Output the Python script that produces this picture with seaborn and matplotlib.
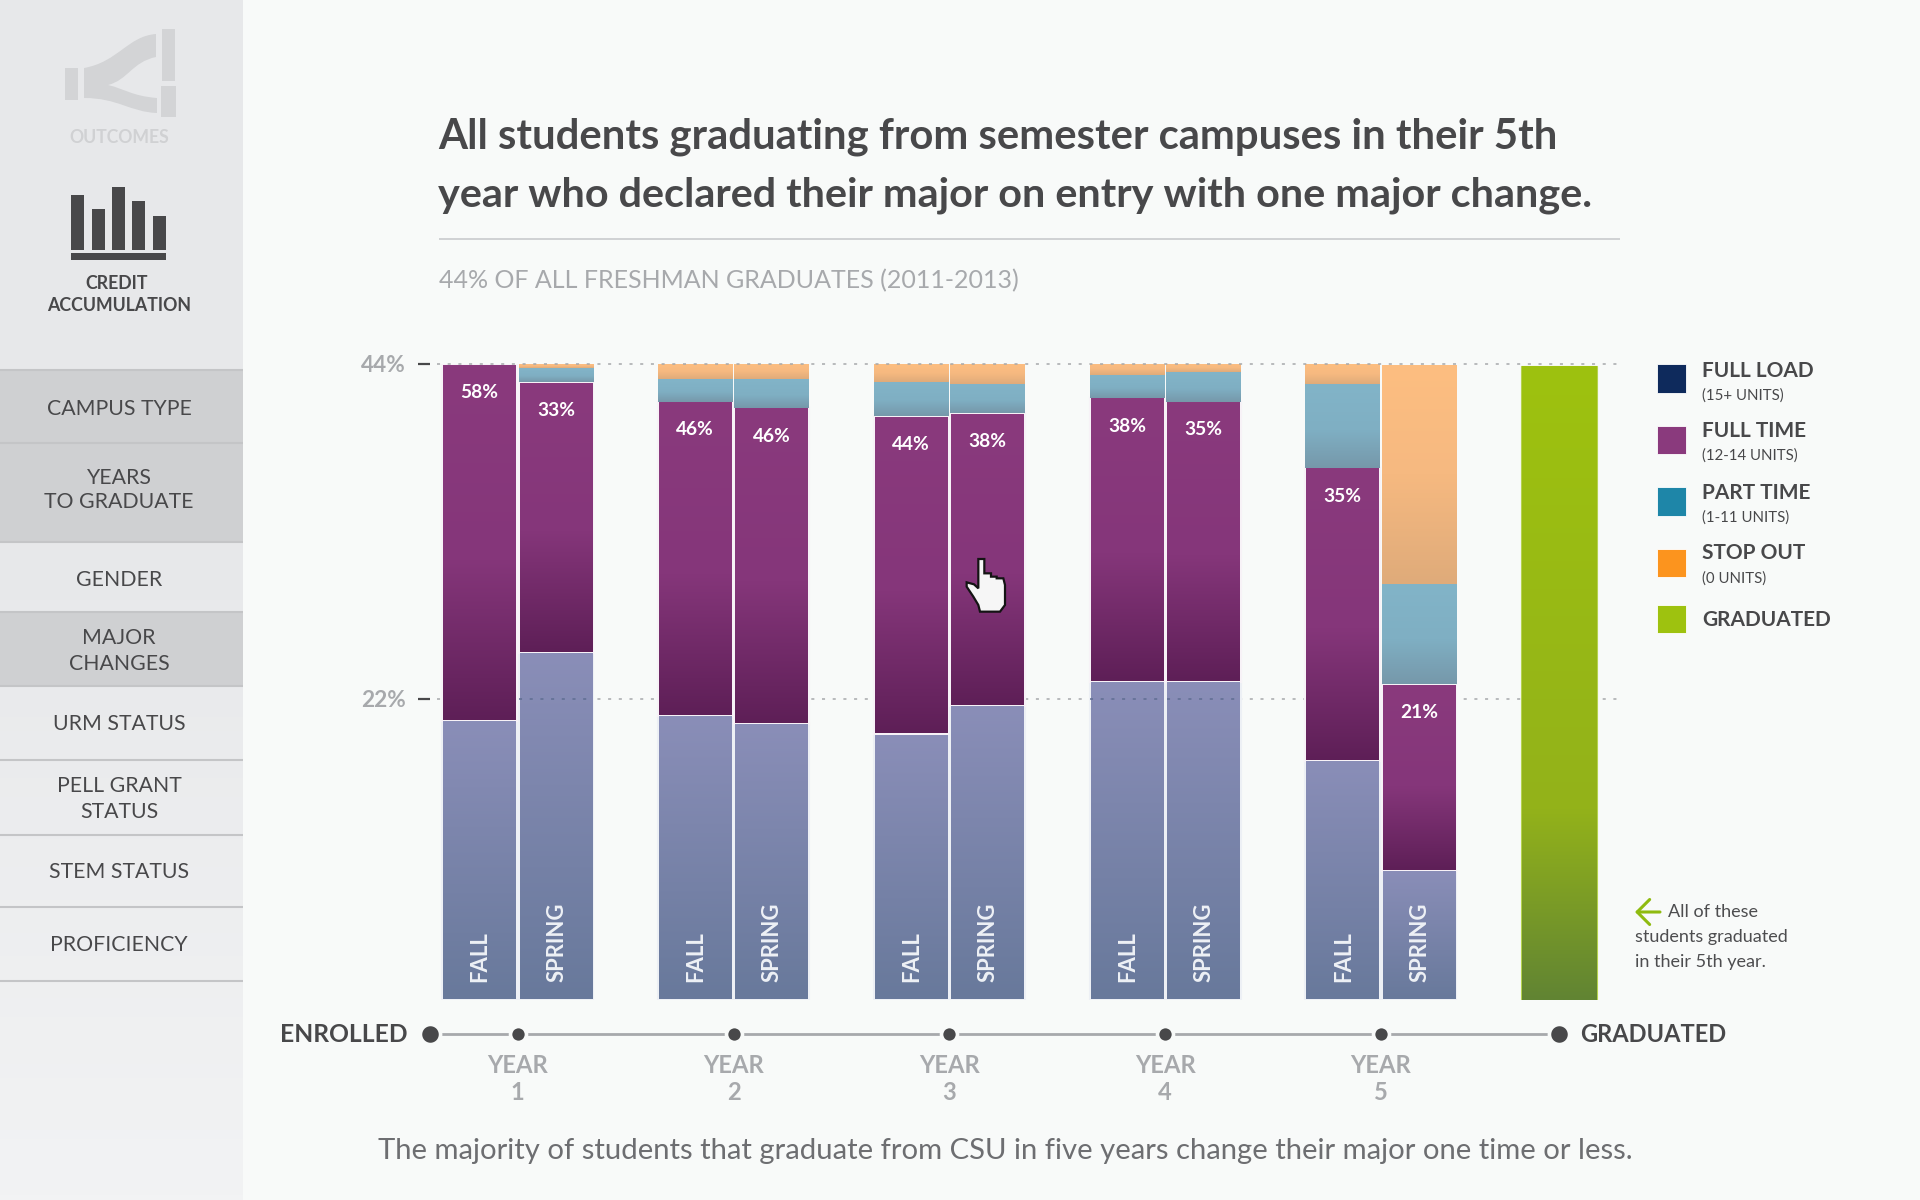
import numpy as np
import pandas as pd
import matplotlib
matplotlib.use("Agg")
import matplotlib.pyplot as plt
import seaborn as sns
from matplotlib.colors import LinearSegmentedColormap
from matplotlib.patches import Rectangle, Polygon, PathPatch, FancyArrowPatch
from matplotlib.path import Path
from matplotlib.transforms import blended_transform_factory

# ---- data (share of each semester's stack) ----
YEARS = [1, 2, 3, 4, 5]
YEAR_LABELS = ["YEAR\n1", "YEAR\n2", "YEAR\n3", "YEAR\n4", "YEAR\n5"]
SEMESTERS = ["FALL", "SPRING"] * 5
OTHER = [43.9, 54.6, 44.7, 43.4, 41.8, 46.3, 50.0, 50.0, 37.6, 20.3]
FULL_TIME = [56.1, 42.5, 49.4, 49.7, 50.0, 46.0, 44.7, 44.1, 46.1, 29.4]
PART_TIME = [0.0, 2.2, 3.6, 4.5, 5.4, 4.5, 3.5, 4.7, 13.2, 15.7]
STOP_OUT = [0.0, 0.6, 2.4, 2.4, 2.8, 3.2, 1.9, 1.3, 3.1, 34.4]
FULL_TIME_LABELS = ["58%", "33%", "46%", "46%", "44%", "38%", "38%", "35%", "35%", "21%"]
GRADUATED_VALUE = [99.9]
Y_TICKS = [47.4, 100]
Y_TICK_LABELS = ["22%", "44%"]
LEGEND_MAIN = ["FULL LOAD", "FULL TIME", "PART TIME", "STOP OUT", "GRADUATED"]
LEGEND_SUB = ["(15+ UNITS)", "(12-14 UNITS)", "(1-11 UNITS)", "(0 UNITS)", ""]
LEGEND_COLORS = ["#0E2A5C", "#8A3A7D", "#1E86A8", "#FC941E", "#9EC20F"]
NAV_ITEMS = ["CAMPUS TYPE", "YEARS\nTO GRADUATE", "GENDER", "MAJOR\nCHANGES", "URM STATUS",
             "PELL GRANT\nSTATUS", "STEM STATUS", "PROFICIENCY"]
TITLE = ["All students graduating from semester campuses in their 5th",
         "year who declared their major on entry with one major change."]
SUBTITLE = "44% OF ALL FRESHMAN GRADUATES (2011-2013)"
FOOTER = "The majority of students that graduate from CSU in five years change their major one time or less."
NOTE = ["All of these", "students graduated", "in their 5th year."]

# ---- styling ----
BG = "#F8FAF9"
DARK = "#48484A"
GREY = "#A7A9AC"
FONT = "Lato"
sns.set_theme(style="white")
plt.rcParams["font.family"] = [FONT, "DejaVu Sans"]

fig = plt.figure(figsize=(19.2, 12), dpi=100, facecolor=BG)
renderer = fig.canvas.get_renderer()

bg = fig.add_axes([0, 0, 1, 1], zorder=0)
bg.set_xlim(0, 1920); bg.set_ylim(1200, 0); bg.axis("off")
top = fig.add_axes([0, 0, 1, 1], zorder=5)
top.set_xlim(0, 1920); top.set_ylim(1200, 0); top.axis("off"); top.patch.set_alpha(0)


def fit(s, width, **kw):
    t = bg.text(0, 0, s, fontsize=20, **kw)
    w = t.get_window_extent(renderer).width
    t.remove()
    return 20 * width / w


def T(x, y, s, size, color=DARK, ha="left", va="baseline", weight="normal", **kw):
    return bg.text(x, y, s, fontsize=size, color=color, ha=ha, va=va, fontweight=weight, **kw)


# ---- sidebar ----
side = LinearSegmentedColormap.from_list("side", ["#E7E8EA", "#E8E9EB", "#F2F3F4"])
bg.imshow(np.linspace(0, 1, 256)[:, None], cmap=side, extent=(0, 243, 1200, 0), aspect="auto", zorder=1)
bg.set_xlim(0, 1920); bg.set_ylim(1200, 0)
NAV_EDGES = [370, 443, 542, 612, 686, 760, 835, 907, 981]
NAV_ACTIVE = [True, True, False, True, False, False, False, False]
for i, on in enumerate(NAV_ACTIVE):
    if on:
        bg.add_patch(Rectangle((0, NAV_EDGES[i]), 243, NAV_EDGES[i + 1] - NAV_EDGES[i],
                               fc="#CFD0D2", ec="none", zorder=2))
for y in NAV_EDGES:
    bg.plot([0, 243], [y, y], color="#C4C5C7", lw=1.5, zorder=3, solid_capstyle="butt")

nav_size = fit("CAMPUS TYPE", 144, fontweight="normal")
NAV_BASE = [[415], [484, 508.5], [586], [644.5, 669.5], [729.5], [792.5, 817.5], [878], [951]]
for item, bases in zip(NAV_ITEMS, NAV_BASE):
    for line, b in zip(item.split("\n"), bases):
        T(119, b, line, nav_size, ha="center", zorder=4)

# outcomes icon
ICON = "#D3D4D6"
for x0, y0, x1, y1 in [(65, 68, 78, 100), (162, 29, 175, 81), (161, 86, 176, 117)]:
    bg.add_patch(Rectangle((x0, y0), x1 - x0, y1 - y0, fc=ICON, ec="none", zorder=3))
verts = [(84, 68), (118, 62), (128, 36), (156, 34), (156, 57), (132, 62), (128, 80), (108, 85),
         (125, 89), (132, 96), (157, 98), (157, 113), (130, 112), (118, 98), (84, 98), (84, 68)]
codes = [Path.MOVETO, Path.CURVE4, Path.CURVE4, Path.CURVE4, Path.LINETO, Path.CURVE4, Path.CURVE4, Path.CURVE4,
         Path.CURVE4, Path.CURVE4, Path.CURVE4, Path.LINETO, Path.CURVE4, Path.CURVE4, Path.CURVE4, Path.CLOSEPOLY]
bg.add_patch(PathPatch(Path(verts, codes), fc=ICON, ec="none", zorder=3))
T(119, 143, "OUTCOMES", fit("OUTCOMES", 100, fontweight="bold"), color="#D0D1D3", ha="center", weight="bold", zorder=4)

# credit accumulation icon
for x0, top_y in zip([71, 91.5, 112, 132, 153], [195, 209, 187, 201, 216]):
    bg.add_patch(Rectangle((x0, top_y), 13, 249.5 - top_y, fc=DARK, ec="none", zorder=3))
bg.add_patch(Rectangle((70.5, 253), 95.5, 6.5, fc=DARK, ec="none", zorder=3))
ca = fit("ACCUMULATION", 144, fontweight="bold")
T(117, 289, "CREDIT", ca, ha="center", weight="bold", zorder=4)
T(119, 311, "ACCUMULATION", ca, ha="center", weight="bold", zorder=4)

# ---- title block ----
T(438, 149, TITLE[0], fit(TITLE[0], 1121, fontweight="bold"), weight="bold")
T(438, 206, TITLE[1], fit(TITLE[1], 1154, fontweight="bold"), weight="bold")
bg.plot([439, 1620], [239, 239], color="#CFD1D3", lw=1.4, solid_capstyle="butt")
T(439, 288, SUBTITLE, fit(SUBTITLE, 579), color=GREY)

# ---- chart ----
AX_L, AX_R, AX_T, AX_B = 430, 1620, 364, 1000
ax = fig.add_axes([AX_L / 1920, 1 - AX_B / 1200, (AX_R - AX_L) / 1920, (AX_B - AX_T) / 1200], zorder=2)
ax.patch.set_alpha(0)
OFFSET = 0.177
x_pos = np.array([[y - OFFSET, y + OFFSET] for y in YEARS]).ravel()
GRAD_X = [5.825]

stack_bottom = np.zeros(len(x_pos))
SERIES = [
    ("other", OTHER, "#7A84A8", [(0, "#8A8EB8"), (1, "#68799B")], "#EDF0F5"),
    ("full", FULL_TIME, "#7D3274", [(0, "#8A3A7D"), (0.55, "#85367A"), (1, "#5E1F57")], "#F7F2F7"),
    ("part", PART_TIME, "#7EAABE", [(0, "#82B4C8"), (0.55, "#7FAFC3"), (1, "#7698AA")], None),
    ("stop", STOP_OUT, "#F2B880", [(0, "#FDBE81"), (0.5, "#F6B980"), (1, "#DFAB7A")], None),
]
seg = {}
for name, vals, col, stops, edge in SERIES:
    n0 = len(ax.patches)
    frame = pd.DataFrame({"x": x_pos, "v": vals})
    sns.barplot(data=frame, x="x", y="v", native_scale=True, orient="x", errorbar=None, width=0.975,
                color=col, saturation=1, bottom=stack_bottom, ax=ax,
                edgecolor=edge if edge else "none", linewidth=1.5 if edge else 0, zorder=3)
    seg[name] = ax.patches[n0:]
    cmap = LinearSegmentedColormap.from_list(name, stops)
    for p in seg[name]:
        if p.get_height() <= 0:
            continue
        dx, dy = (1.0 / 215.8, 1.0 / 6.36) if edge else (0, 0)
        x0, w, y0, h = p.get_x(), p.get_width(), p.get_y(), p.get_height()
        ax.imshow(np.linspace(0, 1, 256)[:, None], cmap=cmap, aspect="auto", zorder=3.5,
                  extent=(x0 + dx, x0 + w - dx, y0 + dy, y0 + h - dy), origin="upper")
    stack_bottom = stack_bottom + np.array(vals)
    if name == "full":
        full_tops = stack_bottom.copy()

n0 = len(ax.patches)
sns.barplot(data=pd.DataFrame({"x": GRAD_X, "v": GRADUATED_VALUE}), x="x", y="v", native_scale=True, orient="x",
            errorbar=None, width=0.352, color="#90AD1E", saturation=1, ax=ax, bottom=[-0.2],
            edgecolor="#B5D24F", linewidth=0.8, zorder=3)
gp = ax.patches[n0]
ax.imshow(np.linspace(0, 1, 256)[:, None], aspect="auto", zorder=3.5, origin="upper",
          cmap=LinearSegmentedColormap.from_list("grad", [(0, "#9EC20F"), (0.7, "#93B21A"), (1, "#618433")]),
          extent=(gp.get_x() + 0.003, gp.get_x() + gp.get_width() - 0.003, gp.get_y() + 0.1,
                  gp.get_y() + gp.get_height() - 0.1))

ax.set_xlim(1 + (AX_L - 517.7) / 215.8, 1 + (AX_R - 517.7) / 215.8)
ax.set_ylim(0, 100)
ax.set_xlabel(""); ax.set_ylabel("")
sns.despine(ax=ax, left=True, bottom=True)

# ticks
ax.set_yticks(Y_TICKS, Y_TICK_LABELS)
ax.tick_params(axis="y", length=8.6, width=1.6, color=DARK, pad=8.6, labelsize=fit("44%", 45, fontweight="bold"),
               labelcolor=GREY, left=True)
for l in ax.get_yticklabels():
    l.set_fontweight("bold")
    l.set_verticalalignment("center_baseline")
year_size = fit("YEAR", 61, fontweight="bold")
ax.set_xticks(YEARS, YEAR_LABELS)
ax.tick_params(axis="x", length=0, pad=39, labelsize=year_size, labelcolor=GREY)
for l in ax.get_xticklabels():
    l.set_fontweight("bold"); l.set_linespacing(1.22); l.set_ha("center")

# dotted reference lines
x_start = 1 + (437 - 517.7) / 215.8
dots = dict(color=GREY, lw=1.1, linestyle=(0, (2, 5)), clip_on=False)
ax.plot([x_start, ax.get_xlim()[1]], [100, 100], zorder=6, **dots)
ax.plot([x_start, ax.get_xlim()[1] - 0.01], [47.4, 47.4], zorder=2, **dots)
for i in (1, 6, 7):
    ax.plot([x_pos[i] - 0.17, x_pos[i] + 0.17], [47.4, 47.4], zorder=6, color="#5F6D92", lw=1.1,
            linestyle=(0, (2, 5)))

# labels in bars
pct_size = fit("58%", 38, fontweight="bold")
for x, ftop, lab in zip(x_pos, full_tops, FULL_TIME_LABELS):
    ax.annotate(lab, (x, ftop), xytext=(0, -20.5), textcoords="offset points", ha="center", va="center",
                color="white", fontsize=pct_size, fontweight="bold", zorder=7)
sem_size = fit("SPRING", 80, fontweight="bold")
for x, lab in zip(x_pos, SEMESTERS):
    ax.annotate(lab, (x, 0), xytext=(0.5, 13), textcoords="offset points", ha="center", va="bottom",
                rotation=90, color="#EEF1F6", fontsize=sem_size, fontweight="bold", zorder=7)

# timeline
trans = blended_transform_factory(ax.transData, bg.transData)
TL_Y = 1034.3
tl_x = [1 + (430 - 517.7) / 215.8] + YEARS + [GRAD_X[0]]
ax.plot(tl_x, [TL_Y] * len(tl_x), transform=trans, color=GREY, lw=2, clip_on=False, zorder=1)
ax.plot(YEARS, [TL_Y] * 5, transform=trans, ls="none", marker="o", ms=11.5, mfc=DARK, mec=BG, mew=2.6,
        clip_on=False, zorder=2)
ax.plot([tl_x[0], tl_x[-1]], [TL_Y] * 2, transform=trans, ls="none", marker="o", ms=14.5, mfc=DARK, mec=BG,
        mew=2.6, clip_on=False, zorder=2)
T(408, 1042.3, "ENROLLED", fit("ENROLLED", 127, fontweight="bold"), ha="right", weight="bold")
T(1580, 1042.3, "GRADUATED", fit("GRADUATED", 146, fontweight="bold"), weight="bold")

# footer
T(378.5, 1159, FOOTER, fit(FOOTER, 1259), color="#6D6E71")

# legend
LEG_Y = [364, 425.7, 487, 548.7, 604.7]
LEG_BASE = [376.7, 436.7, 499.3, 559, 626]
SUB_BASE = [399.3, 460, 522, 582.3, 0]
leg_size = fit("GRADUATED", 129, fontweight="bold")
sub_size = fit("(12-14 UNITS)", 96)
for c, y, lab, b, sub, sb in zip(LEGEND_COLORS, LEG_Y, LEGEND_MAIN, LEG_BASE, LEGEND_SUB, SUB_BASE):
    bg.add_patch(Rectangle((1657, y), 28.7, 28.5, fc=c, ec="white", lw=0.6, zorder=3))
    T(1702, b, lab, leg_size, weight="bold")
    if sub:
        T(1702, sb, sub, sub_size)

# note
note_size = fit(NOTE[1], 153)
T(1668, 917.3, NOTE[0], note_size, color="#4D4D4F")
T(1635, 942, NOTE[1], note_size, color="#4D4D4F")
T(1635, 966.7, NOTE[2], note_size, color="#4D4D4F")
bg.add_patch(FancyArrowPatch((1660, 912), (1635, 912), arrowstyle="->,head_length=5,head_width=5",
                             color="#8FBB10", lw=2.2, mutation_scale=1.8, zorder=4, shrinkA=0, shrinkB=0))

# pointer
HAND = np.array([(85, 42), (103, 42), (103, 85), (123, 85), (123, 95), (140, 95), (140, 100), (160, 100),
                 (165, 120), (165, 180), (150, 200), (90, 200), (85, 180), (70, 155), (50, 125), (50, 112),
                 (72, 118), (85, 130)], dtype=float) / 3 + np.array([950, 545])
top.add_patch(Polygon(HAND, closed=True, fc="#F6F6F6", ec="#141414", lw=1.6, joinstyle="miter", zorder=10))

fig.savefig("out.png", dpi=100, facecolor=BG)
